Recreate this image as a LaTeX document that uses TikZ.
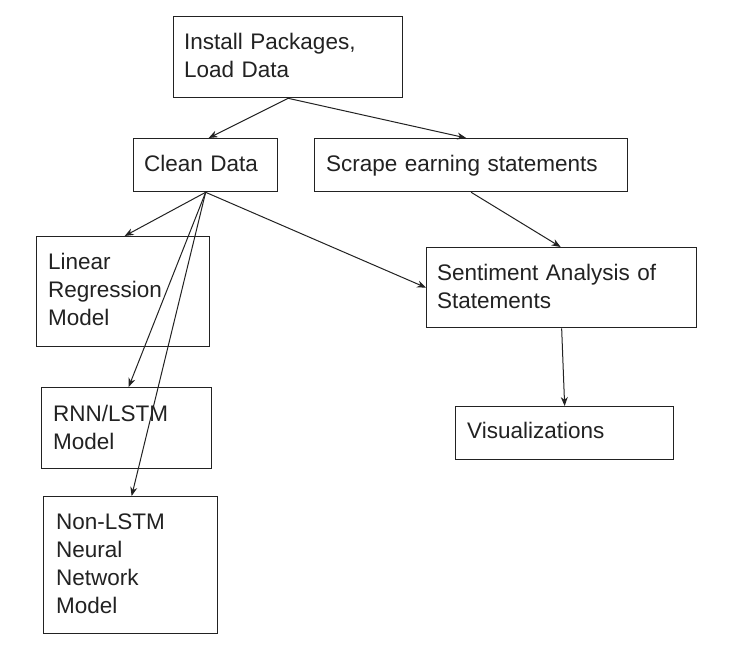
\documentclass[tikz,border=0pt]{standalone}
\usepackage{fontspec}
\setmainfont{Liberation Sans}
\usetikzlibrary{arrows.meta}
\definecolor{ink}{HTML}{222222}
\tikzset{
  box/.style={draw=ink, line width=1.3pt, inner sep=0pt, anchor=north west},
  txt/.style={text=ink, inner sep=0pt, anchor=base west, align=left, text width=300pt,
    font=\fontsize{22.5}{28}\selectfont},
  conn/.style={draw=ink, line width=1pt, -{Stealth[length=9pt,width=7pt]}, shorten <=0pt, shorten >=0pt}
}
\begin{document}
\begin{tikzpicture}[x=1pt,y=-1pt]
\fill[white] (0,0) rectangle (731,660);
\useasboundingbox (0,0) rectangle (731,660);
% boxes
\node[box, minimum width=229pt, minimum height=81pt] (inst) at (173,16) {};
\node[box, minimum width=144pt, minimum height=53pt] (clean) at (133,138) {};
\node[box, minimum width=313pt, minimum height=53pt] (scrape) at (314,138) {};
\node[box, minimum width=173pt, minimum height=110pt] (lin) at (36,236) {};
\node[box, minimum width=270pt, minimum height=80pt] (sent) at (426,247) {};
\node[box, minimum width=170pt, minimum height=81pt] (rnn) at (41,387) {};
\node[box, minimum width=218pt, minimum height=53pt] (vis) at (455,406) {};
\node[box, minimum width=174pt, minimum height=137pt] (nonl) at (43,496) {};
% texts
\node[txt] (tinst) at (184,50) {Install Packages,\\Load Data};
\node[txt] (tclean) at (144,172) {Clean Data};
\node[txt] (tscrape) at (326,172) {Scrape earning statements};
\node[txt] (tlin) at (48,270) {Linear\\Regression\\Model};
\node[txt] (tsent) at (437,281) {Sentiment Analysis of\\Statements};
\node[txt] (trnn) at (53,421) {RNN/LSTM\\Model};
\node[txt] (tvis) at (467,438) {Visualizations};
\node[txt] (tnonl) at (56,529) {Non-LSTM\\Neural\\Network\\Model};
% connectors
\draw[conn] (inst.south) -- ([xshift=3pt]clean.north);
\draw[conn] (inst.south) -- ([xshift=-5pt]scrape.north);
\draw[conn] (clean.south) -- ([xshift=1.5pt]lin.north);
\draw[conn] (clean.south) -- (sent.west);
\draw[conn] (clean.south) -- ([xshift=2pt]rnn.north);
\draw[conn] (clean.south) -- ([xshift=1pt]nonl.north);
\draw[conn] (scrape.south) -- ([xshift=-1pt]sent.north);
\draw[conn] (sent.south) -- (vis.north);
\end{tikzpicture}
\end{document}
